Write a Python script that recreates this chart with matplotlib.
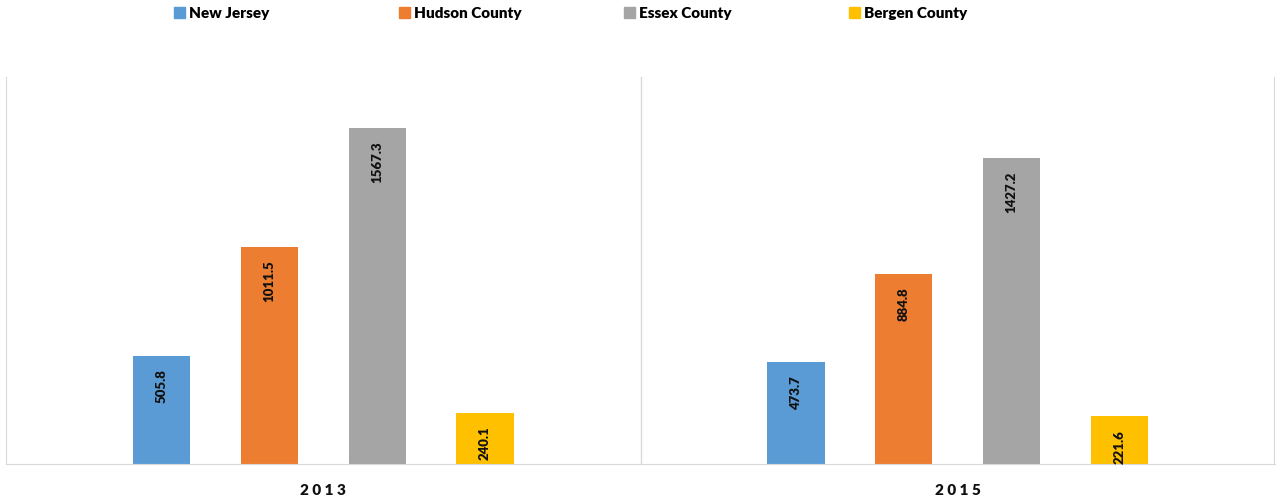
import numpy as np
import matplotlib.pyplot as plt
from matplotlib.patches import Patch

years = ['2013', '2015']
series = ['New Jersey', 'Hudson County', 'Essex County', 'Bergen County']
new_jersey = [505.8, 473.7]
hudson = [1011.5, 884.8]
essex = [1567.3, 1427.2]
bergen = [240.1, 221.6]
colors = ['#5B9BD5', '#ED7D31', '#A5A5A5', '#FFC000']

plt.rcParams['font.family'] = ['Lato', 'DejaVu Sans']

fig = plt.figure(figsize=(12.77, 5.02), dpi=100)
ax = fig.add_axes([6 / 1277, 37 / 502, 1269 / 1277, 387 / 502])

x = np.arange(len(years))
offsets = [-0.255, -0.085, 0.085, 0.255]
width = 0.09
for vals, off, col in zip([new_jersey, hudson, essex, bergen], offsets, colors):
    bars = ax.bar(x + off, vals, width, color=col)
    for b, v in zip(bars, vals):
        ax.annotate(f'{v:.1f}', (b.get_x() + b.get_width() / 2, v),
                    xytext=(0, -9), textcoords='offset points',
                    rotation=90, ha='center', va='top',
                    fontsize=9.5, fontweight='heavy', color='#111111')

ax.set_xlim(-0.5, 1.5)
ax.set_ylim(0, 1805)
ax.set_yticks([])
ax.set_xticks(x)
ax.set_xticklabels([' '.join(y) for y in years], fontsize=11,
                   fontweight='heavy', color='#111111')
ax.tick_params(axis='x', length=0, pad=14)
for s in ['top', 'right']:
    ax.spines[s].set_visible(False)
for s in ['left', 'bottom']:
    ax.spines[s].set_color('#D9D9D9')
ax.axvline(0.5, color='#D9D9D9', lw=1)
ax.axvline(1.5, color='#D9D9D9', lw=1.5)

# one legend entry per slot so the spacing is even, like the original
for i, (c, s) in enumerate(zip(colors, series)):
    fig.legend(handles=[Patch(color=c, label=s)], loc='center left',
               bbox_to_anchor=((174 + 225 * i) / 1277, 1 - 14 / 502),
               frameon=False, handlelength=0.7, handleheight=0.7,
               handletextpad=0.3, borderaxespad=0, borderpad=0,
               prop={'weight': 'heavy', 'size': 11})

fig.savefig('out.png', dpi=100)
